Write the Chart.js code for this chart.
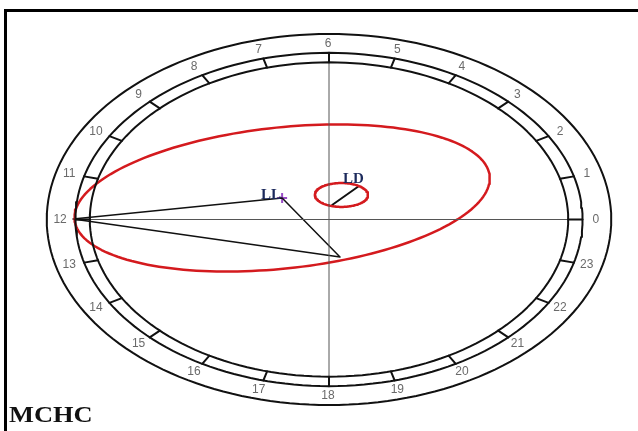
<!DOCTYPE html>
<html>
<head>
<meta charset="utf-8">
<script src="https://cdn.jsdelivr.net/npm/chart.js@4"></script>
<style>
  html, body { margin: 0; padding: 0; background: #fff; overflow: hidden; }
  #wrap { position: relative; width: 638px; height: 431px; }
  #frame {
    position: absolute; left: 4px; top: 9px; width: 640px; height: 440px;
    border-top: 3px solid #000; border-left: 3px solid #000;
  }
  #cosinor { position: absolute; left: 0; top: 0; }
  #title {
    position: absolute; left: 9px; top: 401px; line-height: 24px;
    font: bold 24px "Liberation Serif", serif; color: #111;
    transform: scaleX(1.1); transform-origin: left top;
  }
</style>
</head>
<body>
<div id="wrap">
  <div id="frame"></div>
  <canvas id="cosinor" width="638" height="431"></canvas>
  <div id="title">MCHC</div>
</div>
<script>
// clock face: hour labels, 0 at the right, counter-clockwise
const hourLabels = ['0','1','2','3','4','5','6','7','8','9','10','11',
                    '12','13','14','15','16','17','18','19','20','21','22','23'];

// LL: centre, semi-axes and tilt (deg) of the confidence ellipse
const llCenter = [-0.196, 0.137];
const llAxes = [0.88, 0.445];
const llTilt = 11;

// LD: centre and semi-axes of the small ellipse, plus its vector
const ldCenter = [0.052, 0.156];
const ldAxes = [0.111, 0.076];
const ldVector = [[0.013, 0.092], [0.121, 0.208]];

// acrophase bounds drawn from the 12 h point
const phaseStart = [-1.07, 0.003];
const phaseLow = [0.046, -0.239];

const innerR = 1.0, tickR = 1.06, outerR = 1.18, labelR = 1.12;

function ellipse(cx, cy, a, b, tiltDeg) {
  const t = tiltDeg * Math.PI / 180;
  const pts = [];
  for (let i = 0; i <= 180; i++) {
    const u = Math.PI / 2 + i / 180 * 2 * Math.PI;
    const ex = a * Math.cos(u), ey = b * Math.sin(u);
    pts.push({x: cx + ex * Math.cos(t) - ey * Math.sin(t),
              y: cy + ex * Math.sin(t) + ey * Math.cos(t)});
  }
  return pts;
}

function hourTicks() {
  const pts = [];
  hourLabels.forEach((h, i) => {
    const ang = i * 15 * Math.PI / 180;
    pts.push({x: innerR * Math.cos(ang), y: innerR * Math.sin(ang)});
    pts.push({x: tickR * Math.cos(ang), y: tickR * Math.sin(ang)});
    pts.push({x: NaN, y: NaN});
  });
  return pts;
}

function line(data, color, width) {
  return {data: data, showLine: true, borderColor: color, borderWidth: width,
          borderCapStyle: 'round', borderJoinStyle: 'round',
          pointRadius: 0, fill: false, tension: 0, spanGaps: false};
}

const toPt = p => ({x: p[0], y: p[1]});

const labelPlugin = {
  id: 'labels',
  afterDatasetsDraw(chart) {
    const ctx = chart.ctx;
    const xs = chart.scales.x, ys = chart.scales.y;
    ctx.save();
    ctx.textAlign = 'center';
    ctx.textBaseline = 'middle';
    ctx.fillStyle = '#6a6a6a';
    ctx.font = '12px "Liberation Sans", sans-serif';
    hourLabels.forEach((h, i) => {
      const ang = i * 15 * Math.PI / 180;
      ctx.fillText(h, xs.getPixelForValue(labelR * Math.cos(ang)) - 1,
                      ys.getPixelForValue(labelR * Math.sin(ang)));
    });
    ctx.fillStyle = '#1c2a5c';
    ctx.font = 'bold 15px "Liberation Serif", serif';
    ctx.textAlign = 'right';
    ctx.textBaseline = 'alphabetic';
    ctx.fillText('LL', xs.getPixelForValue(llCenter[0]) - 1, ys.getPixelForValue(llCenter[1]) + 1);
    ctx.textAlign = 'left';
    ctx.fillText('LD', xs.getPixelForValue(ldVector[1][0]) - 15, ys.getPixelForValue(ldVector[1][1]) - 4);
    ctx.restore();
  }
};

new Chart(document.getElementById('cosinor'), {
  type: 'scatter',
  data: {
    datasets: [
      line(ellipse(0, 0, outerR, outerR, 0), '#111', 2),
      line(ellipse(0, 0, tickR, tickR, 0), '#111', 2),
      line(ellipse(0, 0, innerR, innerR, 0), '#111', 2),
      line(hourTicks(), '#111', 2),
      line([{x: -innerR, y: 0}, {x: innerR, y: 0}], '#555', 1),
      line([{x: 0, y: -innerR}, {x: 0, y: innerR}], '#555', 1),
      line(ellipse(llCenter[0], llCenter[1], llAxes[0], llAxes[1], llTilt), '#d41a1e', 2.5),
      line(ellipse(ldCenter[0], ldCenter[1], ldAxes[0], ldAxes[1], 0), '#d41a1e', 2.5),
      line([toPt(phaseStart), toPt(llCenter), toPt(phaseLow), toPt(phaseStart)], '#111', 1.5),
      line(ldVector.map(toPt), '#111', 2),
      {data: [toPt(llCenter)], pointStyle: 'cross', pointRadius: 5,
       borderColor: '#9a4cc8', borderWidth: 2, showLine: false}
    ]
  },
  options: {
    responsive: false,
    animation: false,
    layout: {padding: {left: 30, right: 10, top: 23, bottom: 15}},
    plugins: {legend: {display: false}, tooltip: {enabled: false}},
    scales: {
      x: {type: 'linear', min: -1.25, max: 1.25, display: false},
      y: {type: 'linear', min: -1.25, max: 1.25, display: false}
    }
  },
  plugins: [labelPlugin]
});
</script>
</body>
</html>
